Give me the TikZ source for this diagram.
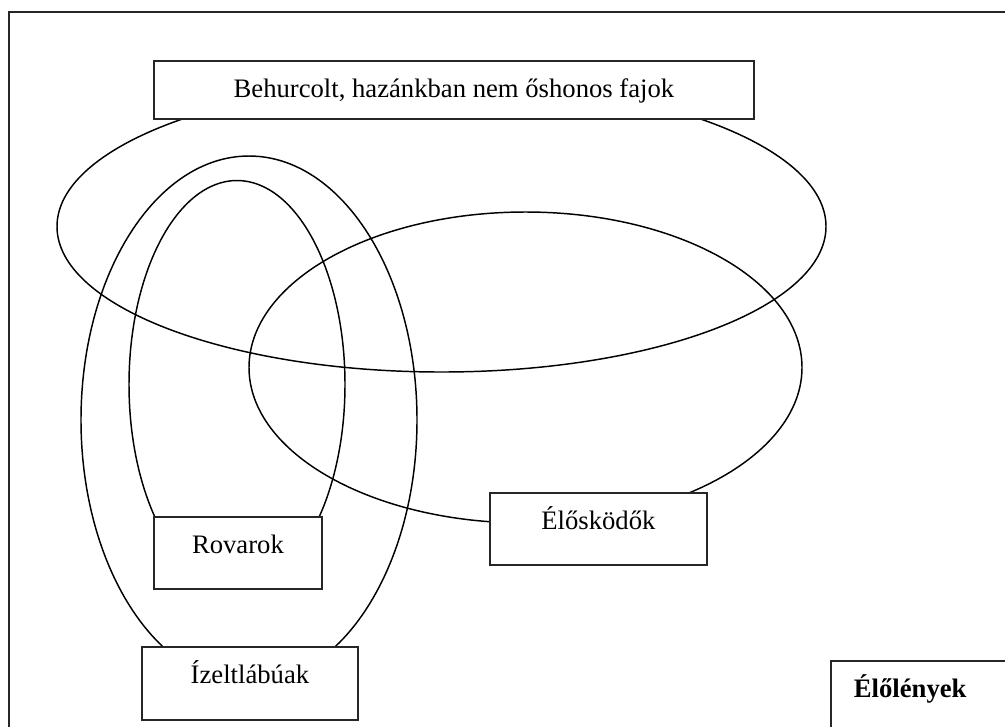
\documentclass[tikz,border=0pt]{standalone}
\usepackage{fontspec}
\setmainfont{Liberation Serif}
\usepackage{tikz}

\begin{document}
\begin{tikzpicture}[x=0.75pt, y=-0.75pt,
  set/.style={line width=1.1pt},
  label box/.style={draw=black!85, line width=1.4pt, fill=white, anchor=north west,
    inner sep=0pt, text height=27.4pt, font=\fontsize{20}{24}\selectfont}]
\useasboundingbox (0,0) rectangle (1005,726);
\clip (0,0) rectangle (1005,726);
\draw[line width=1.4pt, black!85] (9,12) rectangle (1040,760);
% halmazok
\draw[set] (441.5,226.5) ellipse (384.5 and 145.5);
\draw[set] (525.5,367.5) ellipse (276.5 and 155.5);
\draw[set] (249,420) ellipse (168 and 264);
\draw[set] (237,384.5) ellipse (108 and 204);
% feliratok
\node[label box, minimum width=450pt, text depth=16.1pt] (behurcolt) at (153,60) {Behurcolt, hazánkban nem őshonos fajok};
\node[label box, minimum width=126pt, text depth=26.6pt] (rovarok) at (153,516) {Rovarok};
\node[label box, minimum width=162.75pt, text depth=26.6pt] (eloskodok) at (489,492) {Élősködők};
\node[label box, minimum width=162pt, text depth=27.4pt] (izeltlabuak) at (141,646) {Ízeltlábúak};
\node[label box, text depth=60pt, text width=180pt, align=left, inner xsep=17.25pt,
  font=\fontsize{20}{24}\selectfont\bfseries] (elolenyek) at (830,660) {Élőlények};
\end{tikzpicture}
\end{document}
